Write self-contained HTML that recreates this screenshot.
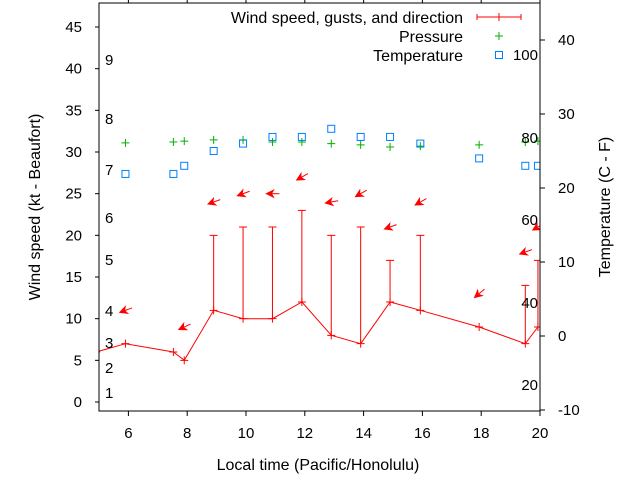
<!DOCTYPE html>
<html><head><meta charset="utf-8"><style>
body{margin:0;background:#fff}
svg{display:block;font-family:"Liberation Sans",sans-serif;font-size:15px}
.big{font-size:16px}
</style></head><body>
<svg id="chart" width="640" height="480" xmlns="http://www.w3.org/2000/svg">
<defs><clipPath id="clip"><rect x="99" y="3" width="441" height="408"/></clipPath></defs>
<g id="plot" clip-path="url(#clip)"></g>
<g id="axes"></g>
</svg>
<script>
const times=[4.9,5.9,7.53,7.9,8.9,9.9,10.9,11.9,12.9,13.9,14.9,15.93,17.93,19.5,19.93];
const speeds=[6,7,6,5,11,10,10,12,8,7,12,11,9,7,9];
const gusts=[null,null,null,null,20,21,21,23,20,21,17,20,null,14,17];
const arrowTimes=[5.9,7.9,8.9,9.9,10.9,11.9,12.9,13.9,14.9,15.93,17.93,19.5,19.93];
const arrowY=[11,9,24,25,25,27,24,25,21,24,13,18,21];
const arrowDir=[20,25,20,20,0,30,10,30,20,30,40,20,30];
const pTimes=[5.9,7.53,7.9,8.9,9.9,10.9,11.9,12.9,13.9,14.9,15.93,17.93,19.5,19.93];
const pressure=[31.1,31.2,31.3,31.45,31.45,31.2,31.2,31.0,30.85,30.6,30.7,30.85,31.2,31.3];
const temps=[21.9,21.9,23,25,26,26.9,26.9,28,26.9,26.9,26,24,23,23];
const xTicks=[6,8,10,12,14,16,18,20];
const yTicks=[0,5,10,15,20,25,30,35,40,45];
const y2Ticks=[-10,0,10,20,30,40];
const beaufort=[[1,393],[2,368],[3,343],[4,311],[5,260],[6,218],[7,170],[8,119],[9,60]];
const fahr=[[20,385],[40,303],[60,220],[80,138],[100,55]];

const X=t=>99+(t-5)*(441/15);
const Y=v=>402-v*8.333;
const Y2=c=>336-c*7.4;
const NS="http://www.w3.org/2000/svg";
const plot=document.getElementById('plot'),axes=document.getElementById('axes');
function mk(tag,attrs,parent,txt){const e=document.createElementNS(NS,tag);for(const k in attrs)e.setAttribute(k,attrs[k]);if(txt!==undefined)e.textContent=txt;parent.appendChild(e);return e;}

let d=times.map((t,i)=>(i?'L':'M')+X(t).toFixed(1)+','+Y(speeds[i]).toFixed(1)).join('');
const wl=mk('path',{d:d,fill:'none',stroke:'#f00','stroke-width':1},plot);


times.forEach((t,i)=>{
  const x=X(t),y=Y(speeds[i]);
  const m=mk('path',{d:`M${x-4},${y}h8M${x},${y-4}v8`,stroke:'#f00'},plot);
  
  
  if(gusts[i]!==null){
    const g=Y(gusts[i]);
    const b=mk('path',{d:`M${x},${y}V${g}M${x-4},${g}h8`,stroke:'#f00',fill:'none'},plot);
    
    
  }
});
arrowTimes.forEach((t,i)=>{
  const a=arrowDir[i]*Math.PI/180;
  const ux=Math.cos(a),uy=-Math.sin(a);
  const x=X(t)-6*ux,y=Y(arrowY[i])-6*uy;
  const tx=x+13*ux,ty=y+13*uy;
  const px=-uy,py=ux;
  const g=mk('g',{},plot);
  
  
  mk('line',{x1:tx,y1:ty,x2:x,y2:y,stroke:'#f00'},g);
  mk('polygon',{points:`${x},${y} ${x+7*ux+3.5*px},${y+7*uy+3.5*py} ${x+5*ux},${y+5*uy} ${x+7*ux-3.5*px},${y+7*uy-3.5*py}`,fill:'#f00',stroke:'#f00','stroke-width':1},g);
});
pTimes.forEach((t,i)=>{
  const x=X(t),y=Y(pressure[i]);
  const m=mk('path',{d:`M${x-4},${y}h8M${x},${y-4}v8`,stroke:'#00b000'},plot);
  
  
});
pTimes.forEach((t,i)=>{
  const x=X(t),y=Y2(temps[i]);
  const m=mk('rect',{x:x-3.5,y:y-3.5,width:7,height:7,fill:'none',stroke:'#0080ff'},plot);
  
  
});

mk('rect',{x:99,y:3,width:441,height:408,fill:'none',stroke:'#000'},axes);
xTicks.forEach(t=>{const x=X(t);
  mk('path',{d:`M${x},411v5M${x},3v-4`,stroke:'#000'},axes);
  const l=mk('text',{x:x,y:438,'text-anchor':'middle'},axes,t);
  
  
});
yTicks.forEach(v=>{const y=Y(v);
  mk('path',{d:`M99,${y}h-4`,stroke:'#000'},axes);
  const l=mk('text',{x:82,y:y+5,'text-anchor':'end'},axes,v);
  
  
});
y2Ticks.forEach(v=>{const y=Y2(v);
  mk('path',{d:`M540,${y}h5`,stroke:'#000'},axes);
  const l=mk('text',{x:558,y:y+5,'text-anchor':'start'},axes,v);
  
  
});
beaufort.forEach(([v,y])=>{const l=mk('text',{x:105,y:y+5},axes,v);
  
  });
fahr.forEach(([v,y])=>{const l=mk('text',{x:538,y:y+5,'text-anchor':'end'},axes,v);
  
  });
</script>
<script>
const s=document.getElementById('chart');
const NS2="http://www.w3.org/2000/svg";
function t2(attrs,txt,name){const e=document.createElementNS(NS2,'text');for(const k in attrs)e.setAttribute(k,attrs[k]);e.textContent=txt;
  e.setAttribute('class','big');
  
  
  s.appendChild(e);return e;}
t2({x:318,y:470,'text-anchor':'middle'},'Local time (Pacific/Honolulu)','x-axis-title');
t2({x:40,y:207,'text-anchor':'middle',transform:'rotate(-90 40 207)'},'Wind speed (kt - Beaufort)','y-axis-title');
t2({x:610,y:207,'text-anchor':'middle',transform:'rotate(-90 610 207)'},'Temperature (C - F)','y2-axis-title');
t2({x:463,y:23,'text-anchor':'end'},'Wind speed, gusts, and direction','legend-wind');
t2({x:463,y:42,'text-anchor':'end'},'Pressure','legend-pressure');
t2({x:463,y:61,'text-anchor':'end'},'Temperature','legend-temperature');
const lg=document.createElementNS(NS2,'path');
lg.setAttribute('d','M477,17H521M477,14v6M521,14v6M499,13v8');
lg.setAttribute('stroke','#f00');


s.appendChild(lg);
const pg=document.createElementNS(NS2,'path');
pg.setAttribute('d','M495,36h8M499,32v8');pg.setAttribute('stroke','#00b000');


s.appendChild(pg);
const tr=document.createElementNS(NS2,'rect');
tr.setAttribute('x',495.5);tr.setAttribute('y',51.5);tr.setAttribute('width',7);tr.setAttribute('height',7);
tr.setAttribute('fill','none');tr.setAttribute('stroke','#0080ff');


s.appendChild(tr);
</script>
</body></html>
